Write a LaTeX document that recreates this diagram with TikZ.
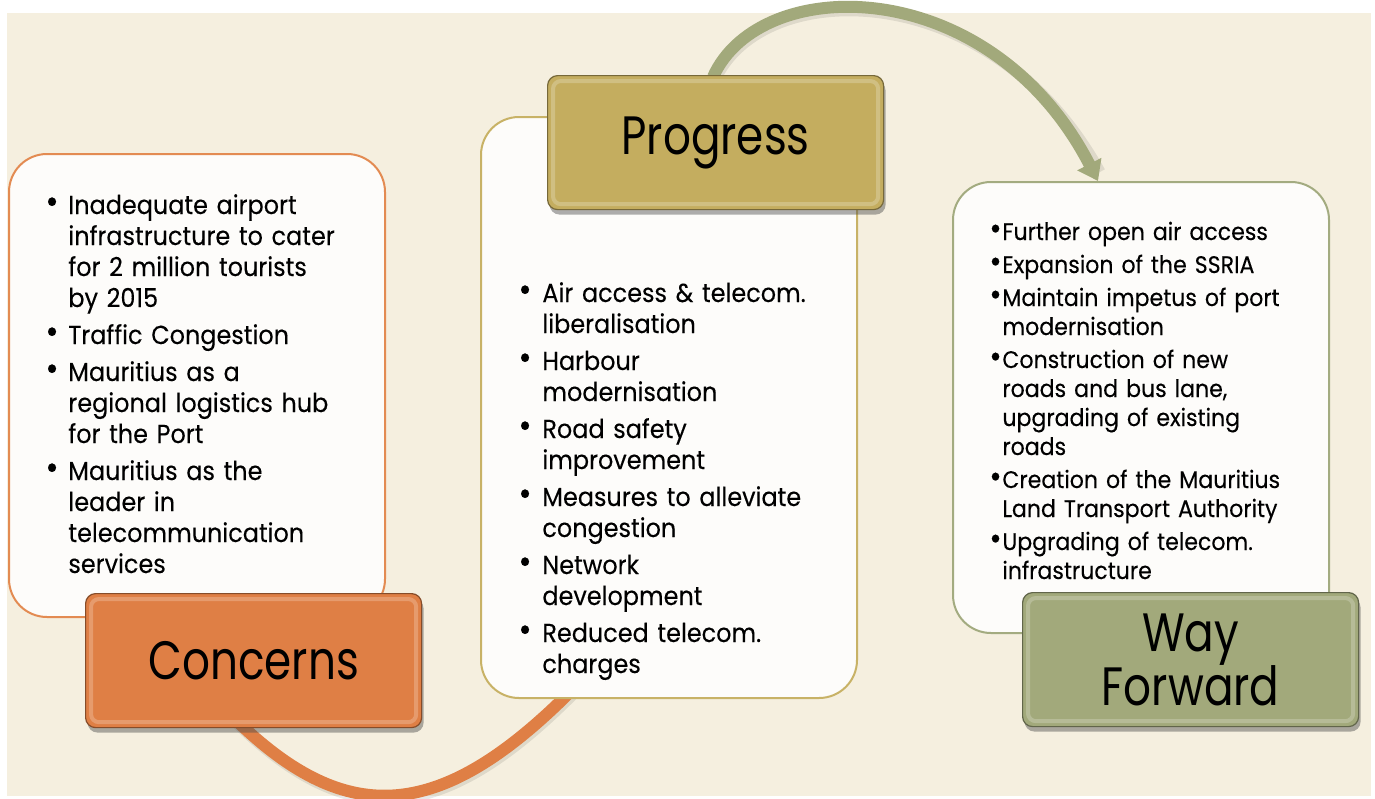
\documentclass[tikz,border=0pt]{standalone}
\usepackage{fontspec}
\setmainfont[FakeStretch=0.92, FakeBold=0.2]{Poppins}
\newfontfamily\titlefont[FakeStretch=0.81]{Poppins}
\usetikzlibrary{arrows.meta,shadows,calc}
\pgfdeclarelayer{bglayer}
\pgfdeclarelayer{arclayer}
\pgfsetlayers{bglayer,arclayer,main}
\definecolor{bgbeige}{HTML}{F5EFDF}
\definecolor{boxwhite}{HTML}{FDFCFA}
\definecolor{orline}{HTML}{E38B52}
\definecolor{orfill}{HTML}{DF7F45}
\definecolor{goline}{HTML}{C8B266}
\definecolor{gofill}{HTML}{C4AD5F}
\definecolor{grline}{HTML}{A3AB80}
\definecolor{grfill}{HTML}{A2A97B}
\newcommand{\mybul}{\raisebox{0.3pt}{\scalebox{1.35}{\textbullet}}}
\tikzset{
  textbox/.style={draw=#1, line width=1pt, fill=boxwhite, rounded corners=19pt,
    anchor=north west, inner sep=0pt, minimum width=188pt},
  labelbox/.style={draw=#1!60!black, line width=0.6pt, rounded corners=5pt,
    anchor=north west, inner sep=0pt, minimum width=168pt, minimum height=67pt,
    drop shadow={shadow xshift=1pt, shadow yshift=-2.5pt, opacity=0.45, fill=black!70},
    font=\titlefont\fontsize{27}{27}\selectfont, text=black, align=center},
  bevel/.style={draw=white, draw opacity=0.22, line width=2pt, rounded corners=4pt},
  bodytext/.style={anchor=base west, inner sep=0pt, align=left, text width=185pt},
  arc/.style={line width=6pt, #1},
  arcshadow/.style={line width=6pt, black, opacity=0.09, transform canvas={shift={(0.8pt,-1.6pt)}}},
}
\begin{document}
\begin{tikzpicture}[x=0.5pt, y=-0.5pt]
\useasboundingbox (0,0) rectangle (1375,798);
\begin{pgfonlayer}{bglayer}
\fill[bgbeige] (7,13) rectangle (1371,796);
\end{pgfonlayer}

% text boxes
\node[textbox=orline, minimum height=231.5pt] (ctext) at (8,153) {};
\node[textbox=goline, minimum height=290.5pt] (ptext) at (480,116) {};
\node[textbox=grline, minimum height=225.5pt] (wtext) at (952,181) {};

% label boxes
\node[labelbox=orfill, fill=orfill] (clabel) at (85,593) {Concerns};
\node[labelbox=gofill, fill=gofill] (plabel) at (547,75) {Progress};
\node[labelbox=grfill, fill=grfill] (wlabel) at (1022,592) {Way\\Forward};
\draw[bevel] ([shift={(3pt,-3pt)}]clabel.north west) rectangle ([shift={(-3pt,3pt)}]clabel.south east);
\draw[bevel] ([shift={(3pt,-3pt)}]plabel.north west) rectangle ([shift={(-3pt,3pt)}]plabel.south east);
\draw[bevel] ([shift={(3pt,-3pt)}]wlabel.north west) rectangle ([shift={(-3pt,3pt)}]wlabel.south east);

% connectors (on a layer under the boxes)
\begin{pgfonlayer}{arclayer}
\draw[arcshadow] ([xshift=73.5pt,yshift=6pt]clabel.south west) .. controls (343,826) and (436,826) .. ([xshift=45pt,yshift=3.5pt]ptext.south west);
\draw[arc=orfill] ([xshift=73.5pt,yshift=6pt]clabel.south west) .. controls (343,826) and (436,826) .. ([xshift=45pt,yshift=3.5pt]ptext.south west);
\draw[arcshadow] ([xshift=83pt,yshift=-1pt]plabel.north west) .. controls (760,-28) and (990,-28) .. ([xshift=-21.5pt,yshift=6pt]wtext.north);
\draw[arc=grfill, -{Triangle[width=13pt,length=9.5pt]}] ([xshift=83pt,yshift=-1pt]plabel.north west) .. controls (760,-28) and (990,-28) .. ([xshift=-21.5pt]wtext.north);
\end{pgfonlayer}

% body texts
\node[bodytext, font=\fontsize{13}{15.5}\selectfont] (ctxt) at (45,214) {%
\makebox[11.5pt][l]{\mybul}Inadequate airport\\
\hspace*{11.5pt}infrastructure to cater\\
\hspace*{11.5pt}for 2 million tourists\\
\hspace*{11.5pt}by 2015\\[3pt]
\makebox[11.5pt][l]{\mybul}Traffic Congestion\\[3pt]
\makebox[11.5pt][l]{\mybul}Mauritius as a\\
\hspace*{11.5pt}regional logistics hub\\
\hspace*{11.5pt}for the Port\\[3pt]
\makebox[11.5pt][l]{\mybul}Mauritius as the\\
\hspace*{11.5pt}leader in\\
\hspace*{11.5pt}telecommunication\\
\hspace*{11.5pt}services};

\node[bodytext, font=\fontsize{13}{15.5}\selectfont] (ptxt) at (518,302) {%
\makebox[12pt][l]{\mybul}Air access \& telecom.\\
\hspace*{12pt}liberalisation\\[3pt]
\makebox[12pt][l]{\mybul}Harbour\\
\hspace*{12pt}modernisation\\[3pt]
\makebox[12pt][l]{\mybul}Road safety\\
\hspace*{12pt}improvement\\[3pt]
\makebox[12pt][l]{\mybul}Measures to alleviate\\
\hspace*{12pt}congestion\\[3pt]
\makebox[12pt][l]{\mybul}Network\\
\hspace*{12pt}development\\[3pt]
\makebox[12pt][l]{\mybul}Reduced telecom.\\
\hspace*{12pt}charges};

\node[bodytext, font=\fontsize{12}{14.5}\selectfont] (wtxt) at (989,240) {%
\makebox[6.5pt][l]{\mybul}Further open air access\\[2pt]
\makebox[6.5pt][l]{\mybul}Expansion of the SSRIA\\[2pt]
\makebox[6.5pt][l]{\mybul}Maintain impetus of port\\
\hspace*{6.5pt}modernisation\\[2pt]
\makebox[6.5pt][l]{\mybul}Construction of new\\
\hspace*{6.5pt}roads and bus lane,\\
\hspace*{6.5pt}upgrading of existing\\
\hspace*{6.5pt}roads\\[2pt]
\makebox[6.5pt][l]{\mybul}Creation of the Mauritius\\
\hspace*{6.5pt}Land Transport Authority\\[2pt]
\makebox[6.5pt][l]{\mybul}Upgrading of telecom.\\
\hspace*{6.5pt}infrastructure};
\end{tikzpicture}
\end{document}
